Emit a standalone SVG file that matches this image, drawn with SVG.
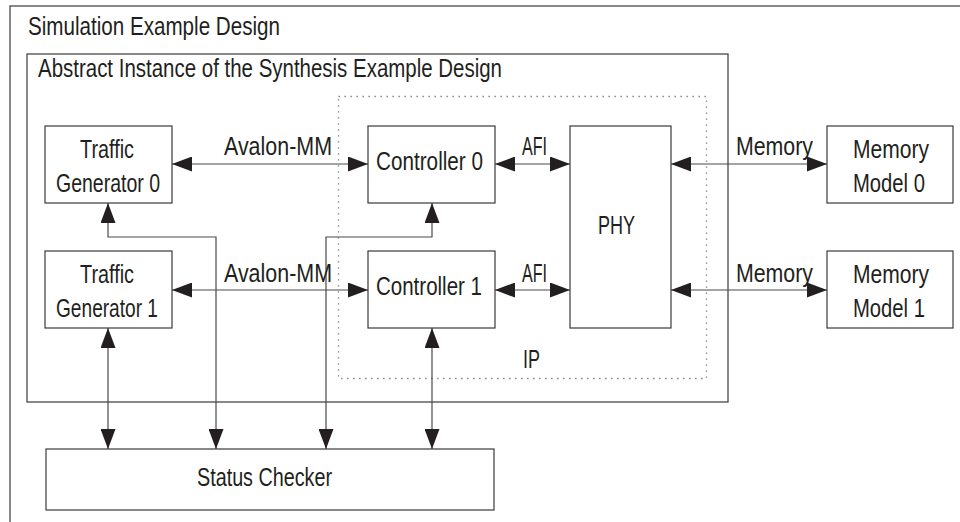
<svg xmlns="http://www.w3.org/2000/svg" width="960" height="522" viewBox="0 0 960 522">
<style>
text{font-family:"Liberation Sans Narrow","Arial Narrow","Liberation Sans",Arial,sans-serif;font-size:26px;fill:#231f20}
.box{fill:#fff;stroke:#3a3a3a;stroke-width:1.2}
.frame{fill:none;stroke:#3a3a3a;stroke-width:1.2}
.ip{fill:none;stroke:#777;stroke-width:1.3;stroke-dasharray:1.3 4.7}
.conn{fill:none;stroke:#4a4a4a;stroke-width:1.2}
</style>
<defs>
<marker id="ah" markerUnits="userSpaceOnUse" markerWidth="20" markerHeight="15" refX="20" refY="7.5" orient="auto-start-reverse" viewBox="0 0 20 15">
<path d="M0,0 L20,7.5 L0,15 z" fill="#231f20"/>
</marker>
</defs>
<rect width="960" height="522" fill="#fff"/>
<g id="sim-frame">
<rect class="frame" x="10" y="6" width="1000" height="600"/>
<text x="28" y="35" textLength="252" lengthAdjust="spacingAndGlyphs">Simulation Example Design</text>
</g>
<g id="abstract-frame">
<rect class="frame" x="27" y="54" width="701" height="348"/>
<text x="38" y="77" textLength="464" lengthAdjust="spacingAndGlyphs">Abstract Instance of the Synthesis Example Design</text>
</g>
<g id="ip">
<rect class="ip" x="338.5" y="96.5" width="368" height="282"/>
<text x="523" y="368" textLength="17" lengthAdjust="spacingAndGlyphs">IP</text>
</g>
<g id="connectors">
<line class="conn" x1="172" y1="164" x2="368" y2="164" marker-start="url(#ah)" marker-end="url(#ah)"/>
<line class="conn" x1="495" y1="164" x2="570" y2="164" marker-start="url(#ah)" marker-end="url(#ah)"/>
<line class="conn" x1="671" y1="164" x2="827" y2="164" marker-start="url(#ah)" marker-end="url(#ah)"/>
<line class="conn" x1="172" y1="290" x2="368" y2="290" marker-start="url(#ah)" marker-end="url(#ah)"/>
<line class="conn" x1="495" y1="290" x2="570" y2="290" marker-start="url(#ah)" marker-end="url(#ah)"/>
<line class="conn" x1="671" y1="290" x2="827" y2="290" marker-start="url(#ah)" marker-end="url(#ah)"/>
<polyline class="conn" points="216,449 216,237 108,237 108,203" marker-start="url(#ah)" marker-end="url(#ah)"/>
<polyline class="conn" points="326,449 326,237 432,237 432,203" marker-start="url(#ah)" marker-end="url(#ah)"/>
<line class="conn" x1="108" y1="449" x2="108" y2="328" marker-start="url(#ah)" marker-end="url(#ah)"/>
<line class="conn" x1="432" y1="449" x2="432" y2="328" marker-start="url(#ah)" marker-end="url(#ah)"/>
<text x="224" y="155" textLength="108" lengthAdjust="spacingAndGlyphs">Avalon-MM</text>
<text x="522" y="155" textLength="25" lengthAdjust="spacingAndGlyphs">AFI</text>
<text x="736" y="155" textLength="77" lengthAdjust="spacingAndGlyphs">Memory</text>
<text x="224" y="282" textLength="108" lengthAdjust="spacingAndGlyphs">Avalon-MM</text>
<text x="522" y="282" textLength="25" lengthAdjust="spacingAndGlyphs">AFI</text>
<text x="736" y="282" textLength="77" lengthAdjust="spacingAndGlyphs">Memory</text>
</g>
<g id="tg0">
<rect class="box" x="45" y="126" width="127" height="77"/>
<text x="80" y="158" textLength="54" lengthAdjust="spacingAndGlyphs">Traffic</text>
<text x="56" y="192" textLength="104" lengthAdjust="spacingAndGlyphs">Generator 0</text>
</g>
<g id="tg1">
<rect class="box" x="45" y="251" width="127" height="77"/>
<text x="80" y="283" textLength="54" lengthAdjust="spacingAndGlyphs">Traffic</text>
<text x="56" y="317" textLength="102" lengthAdjust="spacingAndGlyphs">Generator 1</text>
</g>
<g id="ctrl0">
<rect class="box" x="368" y="126" width="127" height="77"/>
<text x="376" y="170" textLength="107" lengthAdjust="spacingAndGlyphs">Controller 0</text>
</g>
<g id="ctrl1">
<rect class="box" x="368" y="251" width="127" height="77"/>
<text x="376" y="295" textLength="106" lengthAdjust="spacingAndGlyphs">Controller 1</text>
</g>
<g id="phy">
<rect class="box" x="570" y="126" width="101" height="202"/>
<text x="598" y="234" textLength="37" lengthAdjust="spacingAndGlyphs">PHY</text>
</g>
<g id="mm0">
<rect class="box" x="827" y="126" width="126" height="77"/>
<text x="853" y="158" textLength="76" lengthAdjust="spacingAndGlyphs">Memory</text>
<text x="853" y="192" textLength="72" lengthAdjust="spacingAndGlyphs">Model 0</text>
</g>
<g id="mm1">
<rect class="box" x="827" y="251" width="126" height="77"/>
<text x="853" y="283" textLength="76" lengthAdjust="spacingAndGlyphs">Memory</text>
<text x="853" y="317" textLength="72" lengthAdjust="spacingAndGlyphs">Model 1</text>
</g>
<g id="status-checker">
<rect class="box" x="46" y="449" width="448" height="61"/>
<text x="197" y="486" textLength="135" lengthAdjust="spacingAndGlyphs">Status Checker</text>
</g>
</svg>
